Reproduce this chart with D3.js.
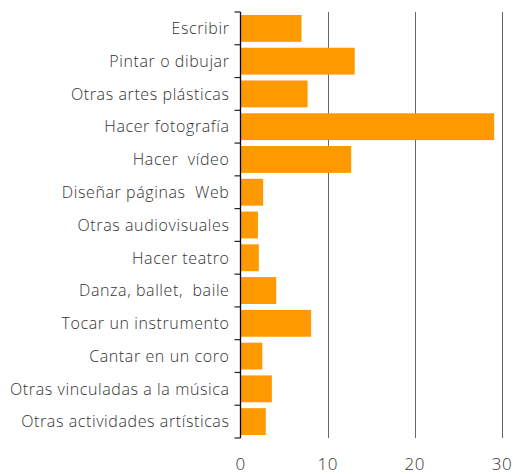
<!DOCTYPE html>
<html><head><meta charset="utf-8">
<script src="https://cdn.jsdelivr.net/npm/d3@7"></script>
<style>
html,body{margin:0;padding:0;background:#fff;}
svg{display:block;}
</style></head>
<body>
<script>
const categories = ["Escribir","Pintar o dibujar","Otras artes plásticas","Hacer fotografía","Hacer  vídeo","Diseñar páginas  Web","Otras audiovisuales","Hacer teatro","Danza, ballet,  baile","Tocar un instrumento","Cantar en un coro","Otras vinculadas a la música","Otras actividades artísticas"];
const values = [7.0,13.1,7.7,29.1,12.7,2.6,2.0,2.1,4.1,8.1,2.5,3.6,2.9];
const xTicks = [0,10,20,30];

const W=513,H=474;
const svg=d3.select("body").append("svg").attr("width",W).attr("height",H);
const font="'Open Sans', sans-serif";
const x=d3.scaleLinear().domain([0,30]).range([240.5,502]);
const y=d3.scaleBand().domain(categories).range([12,438]).paddingInner(0.18).paddingOuter(0.09);

// gridlines
svg.append("g").selectAll("line").data(xTicks.filter(d=>d>0)).join("line")
  .attr("x1",d=>Math.round(x(d))+0.5).attr("x2",d=>Math.round(x(d))+0.5)
  .attr("y1",12).attr("y2",438).attr("stroke","#666").attr("stroke-width",1);

// bars
svg.append("g").selectAll("rect").data(values).join("rect")
  .attr("x",x(0)).attr("y",(d,i)=>y(categories[i]))
  .attr("width",d=>x(d)-x(0)).attr("height",y.bandwidth())
  .attr("fill","#ff9900");

// y axis
const yb=d3.scaleBand().domain(categories).range([12,438]);
const ga=svg.append("g").attr("transform",`translate(${x(0)},0)`);
ga.append("line").attr("x1",0).attr("x2",0).attr("y1",12).attr("y2",438).attr("stroke","#000").attr("stroke-width",1.3);
const edges=categories.map(c=>yb(c)).concat([438]);
ga.selectAll("line.t").data(edges).join("line").attr("class","t")
  .attr("x1",-6).attr("x2",0).attr("y1",d=>d).attr("y2",d=>d).attr("stroke","#222").attr("stroke-width",1.2);
ga.selectAll("text").data(categories).join("text")
  .attr("x",-11).attr("y",d=>yb(d)+yb.bandwidth()/2)
  .attr("dy","0.36em").attr("text-anchor","end")
  .attr("font-family",font).attr("font-size","16px").attr("font-weight",300).attr("fill","#333")
  .attr("letter-spacing","0.6px")
  .attr("xml:space","preserve").style("white-space","pre")
  .text(d=>d);

// x axis labels
const xa=svg.append("g").attr("transform",`translate(0,470)`);
xa.selectAll("text").data(xTicks).join("text")
  .attr("x",d=>x(d)).attr("y",0).attr("text-anchor","middle")
  .attr("font-family",font).attr("font-size","17px").attr("font-weight",300).attr("fill","#333")
  .attr("letter-spacing","0.5px")
  .text(d=>d);
</script>
</body></html>
